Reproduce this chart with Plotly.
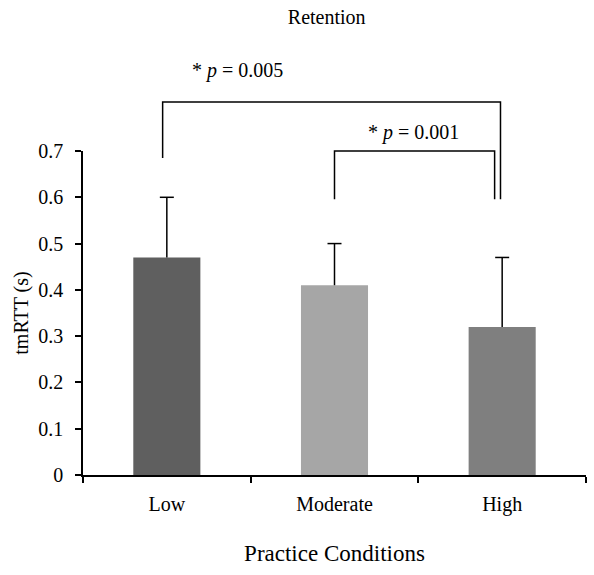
import plotly.graph_objects as go

categories = ["Low", "Moderate", "High"]
means = [0.47, 0.41, 0.32]
errors = [0.13, 0.09, 0.15]
colors = ["#5f5f5f", "#a6a6a6", "#7f7f7f"]
y_ticks = [0, 0.1, 0.2, 0.3, 0.4, 0.5, 0.6, 0.7]
y_tick_text = ["0", "0.1", "0.2", "0.3", "0.4", "0.5", "0.6", "0.7"]

# significance brackets: (x_left, x_right, y_left_bottom, y_top, y_right_bottom)
brackets = [
    (-0.025, 1.99, 0.685, 0.806, 0.596),
    (1.0, 1.955, 0.596, 0.700, 0.596),
]
labels = [("* <i>p</i> = 0.005", 0.42, 0.875), ("* <i>p</i> = 0.001", 1.47, 0.740)]

X_RANGE = [-0.5, 2.5]
Y_RANGE = [0, 0.7]

def px(x):
    return (x - X_RANGE[0]) / (X_RANGE[1] - X_RANGE[0])

def py(y):
    return (y - Y_RANGE[0]) / (Y_RANGE[1] - Y_RANGE[0])

FONT = "Liberation Serif, Times New Roman, serif"

fig = go.Figure()
fig.add_trace(go.Bar(
    x=categories, y=means, width=0.4,
    marker=dict(color=colors, line=dict(width=0)),
))

# upward-only error bars: stem from bar top plus a cap at the top
ex, ey = [], []
for c, m, e in zip(categories, means, errors):
    ex += [c, c, None]
    ey += [m, m + e, None]
fig.add_trace(go.Scatter(x=ex, y=ey, mode="lines",
                         line=dict(color="black", width=1.5),
                         hoverinfo="skip", cliponaxis=False))
fig.add_trace(go.Scatter(x=categories, y=[m + e for m, e in zip(means, errors)],
                         mode="markers",
                         marker=dict(symbol="line-ew", size=10,
                                     line=dict(color="black", width=1.5)),
                         hoverinfo="skip", cliponaxis=False))

shapes = []
for xl, xr, yl, yt, yr in brackets:
    pts = [(xl, yl), (xl, yt), (xr, yt), (xr, yr)]
    path = "M " + " L ".join(f"{px(a):.5f},{py(b):.5f}" for a, b in pts)
    shapes.append(dict(type="path", xref="paper", yref="paper", path=path,
                       line=dict(color="black", width=1.5)))

annotations = [dict(text=t, x=px(x), y=py(y), xref="paper", yref="paper",
                    xanchor="center", yanchor="middle",
                    showarrow=False, font=dict(family=FONT, size=20, color="black"))
               for t, x, y in labels]

fig.update_layout(
    width=594, height=575,
    margin=dict(l=83, r=8, t=151, b=100),
    paper_bgcolor="white", plot_bgcolor="white",
    showlegend=False,
    font=dict(family=FONT, color="black"),
    title=dict(text="Retention", x=0.55, xref="container", xanchor="center",
               y=1 - 17 / 575, yref="container", yanchor="middle",
               font=dict(family=FONT, size=20, color="black")),
    shapes=shapes,
    annotations=annotations,
    xaxis=dict(range=X_RANGE, showline=True, linecolor="black", linewidth=1.5,
               ticks="outside", tickson="boundaries", ticklen=6, tickwidth=1.5,
               tickcolor="black", tickfont=dict(family=FONT, size=20, color="black"),
               ticklabelstandoff=10, showgrid=False, zeroline=False,
               title=dict(text="Practice Conditions", standoff=30,
                          font=dict(family=FONT, size=23, color="black"))),
    yaxis=dict(range=Y_RANGE, tickvals=y_ticks, ticktext=y_tick_text,
               showline=True, linecolor="black", linewidth=1.5,
               ticks="outside", ticklen=6, tickwidth=1.5, tickcolor="black",
               tickfont=dict(family=FONT, size=20, color="black"),
               ticklabelstandoff=8, showgrid=False, zeroline=False,
               title=dict(text="tmRTT (s)", standoff=4,
                          font=dict(family=FONT, size=20, color="black"))),
)

fig.write_html("out.html")
